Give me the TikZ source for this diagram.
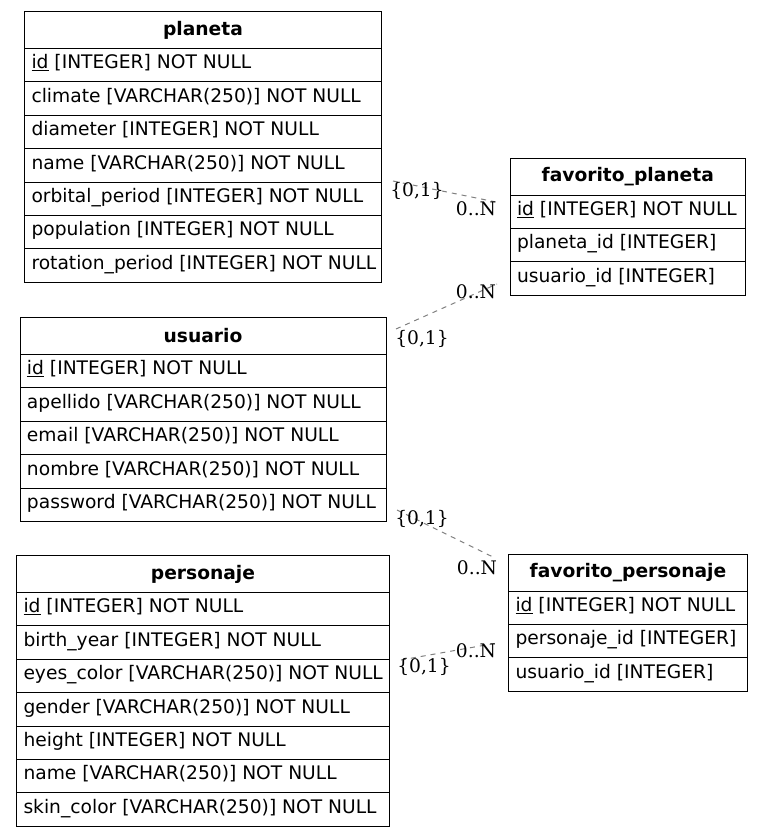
\documentclass[tikz,border=0pt]{standalone}
\usepackage{fontspec}
\setmainfont{DejaVu Sans}
\newfontfamily\lblfont{DejaVu Serif}
\tikzset{
  hdr/.style={draw=black, line width=1pt, anchor=north west, inner sep=0pt,
    minimum height=37pt, font=\fontsize{18.67}{22}\selectfont\bfseries},
  cell/.style={draw=black, line width=1pt, anchor=north west, inner xsep=7pt,
    inner ysep=0pt, minimum height=33.4pt, text height=12pt, text depth=4.5pt,
    font=\fontsize{18.67}{22}\selectfont},
  rel/.style={draw=gray, line width=1pt, dash pattern=on 5pt off 5pt},
  card/.style={inner sep=0pt, font=\fontsize{18.67}{22}\lblfont},
}
\newcommand\erdtab[6]{%
  \node[hdr, minimum width=#4pt] (#1) at (#2,#3) {#5};
  \pgfmathsetmacro\erdtw{#4-14}
  \foreach \r [count=\i] in {#6} {
    \node[cell] (#1-\i) at (#2,{#3+37+(\i-1)*33.4}) {\makebox[\erdtw pt][l]{\r}};
  }
}
\begin{document}
\begin{tikzpicture}[x=1pt,y=-1pt]
\useasboundingbox (0,0) rectangle (763,836);

\erdtab{planeta}{24}{11}{357}{planeta}{%
  {\underline{id} [INTEGER] NOT NULL},
  {climate [VARCHAR(250)] NOT NULL},
  {diameter [INTEGER] NOT NULL},
  {name [VARCHAR(250)] NOT NULL},
  {orbital\_period [INTEGER] NOT NULL},
  {population [INTEGER] NOT NULL},
  {rotation\_period [INTEGER] NOT NULL}}

\erdtab{favplaneta}{509.5}{157.5}{235.5}{favorito\_planeta}{%
  {\underline{id} [INTEGER] NOT NULL},
  {planeta\_id [INTEGER]},
  {usuario\_id [INTEGER]}}

\erdtab{usuario}{19.5}{317}{366}{usuario}{%
  {\underline{id} [INTEGER] NOT NULL},
  {apellido [VARCHAR(250)] NOT NULL},
  {email [VARCHAR(250)] NOT NULL},
  {nombre [VARCHAR(250)] NOT NULL},
  {password [VARCHAR(250)] NOT NULL}}

\erdtab{personaje}{16}{555}{373}{personaje}{%
  {\underline{id} [INTEGER] NOT NULL},
  {birth\_year [INTEGER] NOT NULL},
  {eyes\_color [VARCHAR(250)] NOT NULL},
  {gender [VARCHAR(250)] NOT NULL},
  {height [INTEGER] NOT NULL},
  {name [VARCHAR(250)] NOT NULL},
  {skin\_color [VARCHAR(250)] NOT NULL}}

\erdtab{favpersonaje}{508}{553.5}{239}{favorito\_personaje}{%
  {\underline{id} [INTEGER] NOT NULL},
  {personaje\_id [INTEGER]},
  {usuario\_id [INTEGER]}}

% connector end points
\coordinate (e1a) at (393,181);
\coordinate (e1b) at (496,202);
\coordinate (e2a) at (396,329);
\coordinate (e2b) at (497,284);
\coordinate (e3a) at (397,510);
\coordinate (e3b) at (495,558);
\coordinate (e4a) at (401,660);
\coordinate (e4b) at (497,643);

\draw[rel] (e1a) -- (e1b);
\draw[rel] (e2a) -- (e2b);
\draw[rel] (e3a) -- (e3b);
\draw[rel] (e4a) -- (e4b);

\node[card] (c1a) at (417,191) {\{0,1\}};
\node[card] (c1b) at (476,209) {0..N};
\node[card] (c2a) at (422,339) {\{0,1\}};
\node[card] (c2b) at (476,292) {0..N};
\node[card] (c3a) at (422,519) {\{0,1\}};
\node[card] (c3b) at (477,568) {0..N};
\node[card] (c4a) at (424,667) {\{0,1\}};
\node[card] (c4b) at (476,651) {0..N};
\end{tikzpicture}
\end{document}
